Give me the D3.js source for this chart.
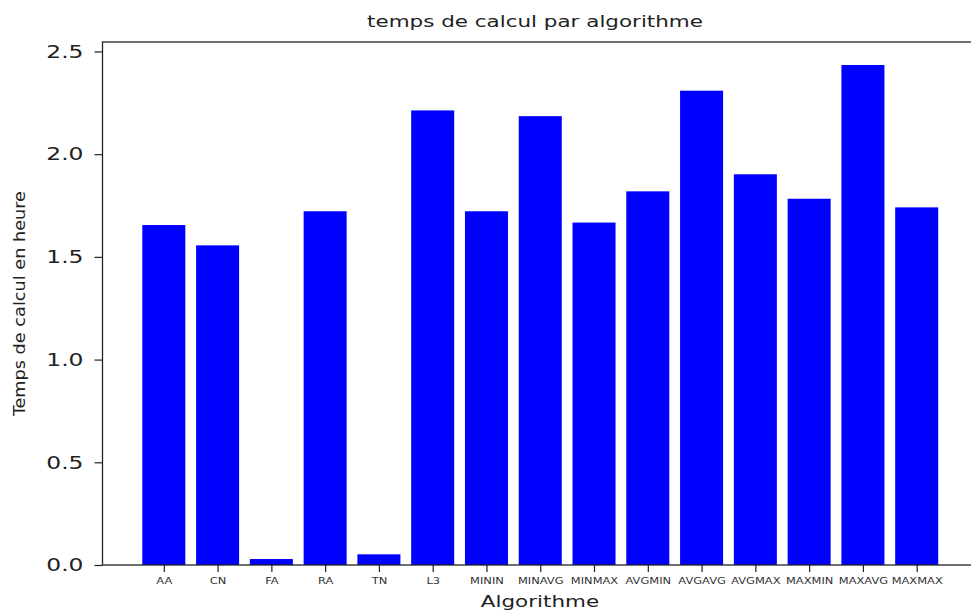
<!DOCTYPE html>
<html>
<head>
<meta charset="utf-8">
<script src="https://cdn.jsdelivr.net/npm/d3@7"></script>
<style>
	body { margin: 0; background: #fff; }
	svg { display: block; font-family: "DejaVu Sans", sans-serif; }
</style>
</head>
<body>
<svg id="chart" width="971" height="612"></svg>
<script>
// algorithm names (x axis) and compute time in hours
const ALGOS = ['AA', 'CN', 'FA', 'RA', 'TN', 'L3', 'MININ', 'MINAVG', 'MINMAX',
	'AVGMIN', 'AVGAVG', 'AVGMAX', 'MAXMIN', 'MAXAVG', 'MAXMAX'];
const HOURS = [1.655, 1.556, 0.029, 1.722, 0.052, 2.213, 1.722, 2.185, 1.667,
	1.819, 2.309, 1.902, 1.783, 2.434, 1.741];
const Y_TICKS = [0.0, 0.5, 1.0, 1.5, 2.0, 2.5];

const TITLE = 'temps de calcul par algorithme';
const X_LABEL = 'Algorithme';
const Y_LABEL = 'Temps de calcul en heure';

// the picture is stretched wider than tall, so text gets widened too
const SX = 1.3;

const widen = function(sel) {
	sel.each(function() {
		const w = this.getComputedTextLength();
		d3.select(this).attr('textLength', w * SX).attr('lengthAdjust', 'spacingAndGlyphs');
	});
};

const svg = d3.select('#chart');
const plot_left = 102.5, plot_right = 978, plot_top = 42, plot_bottom = 565;

const x = d3.scaleLinear().domain([-1.14, ALGOS.length - 1 + 1.14]).range([plot_left, plot_right]);
const y = d3.scaleLinear().domain([0, 2.546]).range([plot_bottom, plot_top]);
const bar_w = x(0.8) - x(0);

svg.selectAll('.bar').data(HOURS)
	.enter()
	.append('rect')
	.attr('class', 'bar')
	.attr('x', function(d, i) { return x(i - 0.4); })
	.attr('y', function(d) { return y(d); })
	.attr('width', bar_w)
	.attr('height', function(d) { return y(0) - y(d); })
	.attr('fill', '#0000ff');

// x axis, tiny labels
const x_axis = d3.axisBottom(x)
	.tickValues(d3.range(ALGOS.length))
	.tickFormat(function(i) { return ALGOS[i]; })
	.tickSizeInner(7).tickSizeOuter(0).tickPadding(6);
const gx = svg.append('g').attr('transform', `translate(0,${plot_bottom})`).call(x_axis);
gx.select('.domain').remove();
gx.selectAll('.tick line').attr('stroke', '#222').attr('stroke-width', 1.2);
gx.selectAll('.tick text')
	.attr('font-size', 8.8).attr('fill', '#333').attr('font-family', 'DejaVu Sans')
	.call(widen);

// y axis
const y_axis = d3.axisLeft(y)
	.tickValues(Y_TICKS)
	.tickFormat(d3.format('.1f'))
	.tickSizeInner(8).tickSizeOuter(0).tickPadding(11);
const gy = svg.append('g').attr('transform', `translate(${plot_left},0)`).call(y_axis);
gy.select('.domain').remove();
gy.selectAll('.tick line').attr('stroke', '#222').attr('stroke-width', 1.2);
gy.selectAll('.tick text')
	.attr('font-size', 18).attr('fill', '#222').attr('font-family', 'DejaVu Sans')
	.call(widen);

// frame (right edge sits just past the canvas)
svg.append('rect')
	.attr('x', plot_left).attr('y', plot_top)
	.attr('width', plot_right - plot_left).attr('height', plot_bottom - plot_top)
	.attr('fill', 'none').attr('stroke', '#222').attr('stroke-width', 1.3);

svg.append('text')
	.attr('x', 535).attr('y', 27)
	.attr('text-anchor', 'middle')
	.attr('font-size', 16.5).attr('fill', '#222')
	.text(TITLE)
	.call(widen);

svg.append('text')
	.attr('x', 540).attr('y', 607)
	.attr('text-anchor', 'middle')
	.attr('font-size', 16.5).attr('fill', '#222')
	.text(X_LABEL)
	.call(widen);

svg.append('text')
	.attr('transform', `translate(25,${(plot_top + plot_bottom) / 2}) rotate(-90)`)
	.attr('text-anchor', 'middle')
	.attr('font-size', 15.5).attr('fill', '#222')
	.attr('font-family', '"DejaVu Sans Condensed", "Liberation Sans Narrow", "DejaVu Sans", sans-serif')
	.attr('textLength', 225).attr('lengthAdjust', 'spacingAndGlyphs')
	.text(Y_LABEL);
</script>
</body>
</html>
